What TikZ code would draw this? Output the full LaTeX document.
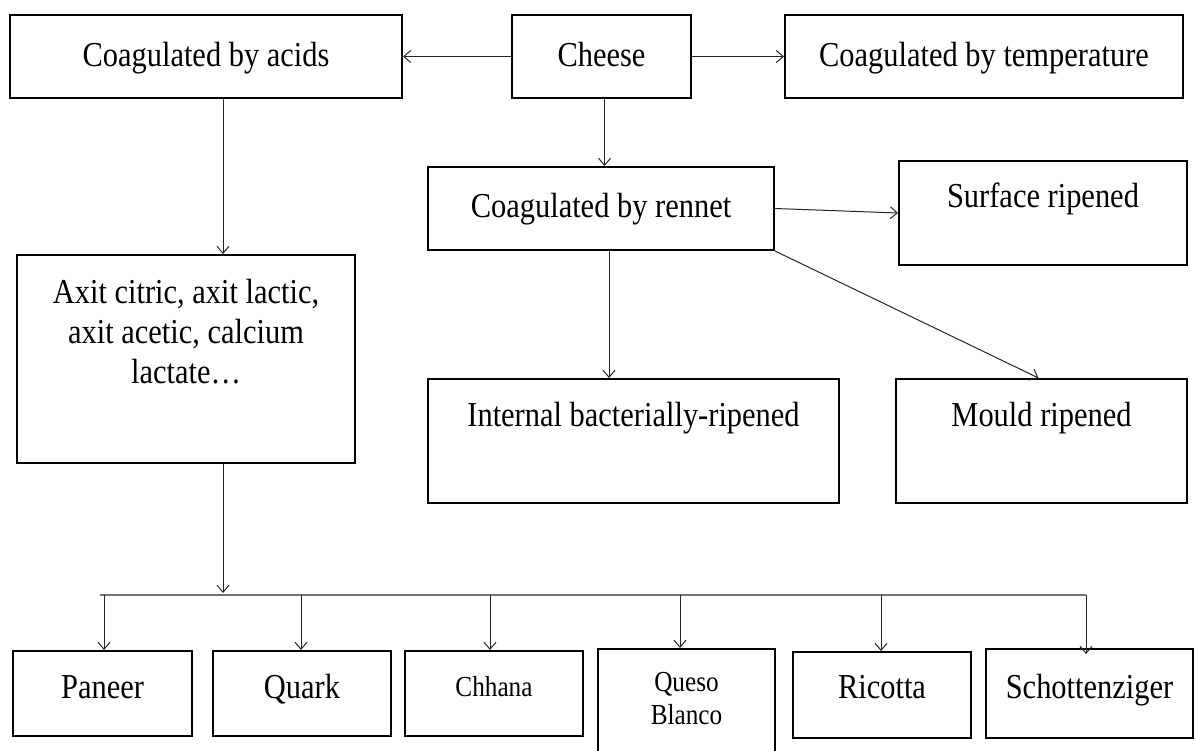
\documentclass[tikz,border=0pt]{standalone}
\usepackage{fontspec}
\setmainfont{Liberation Serif}[FakeStretch=0.87]
\usetikzlibrary{arrows.meta}
\tikzset{
  box/.style={draw=black, line width=2pt, inner sep=0pt, rectangle},
  txt/.style={anchor=base, inner sep=0pt, font=\fontsize{35}{40}\selectfont, align=center},
  smalltxt/.style={anchor=base, inner sep=0pt, font=\fontsize{29}{33}\selectfont, align=center},
  arr/.style={draw=black!85, line width=1pt, -{Straight Barb[length=7pt,width=12pt]}},
  ln/.style={draw=black!55, line width=1.6pt},
}
\begin{document}
\begin{tikzpicture}[x=1pt,y=-1pt]
\useasboundingbox (0,0) rectangle (1195,751);
% boxes
\node[box, minimum width=392pt, minimum height=83pt] (acids) at (206,56.5) {};
\node[box, minimum width=179pt, minimum height=83pt] (cheese) at (601.5,56.5) {};
\node[box, minimum width=398pt, minimum height=83pt] (temp) at (984,56.5) {};
\node[box, minimum width=346pt, minimum height=83pt] (rennet) at (601,208.5) {};
\node[box, minimum width=288pt, minimum height=104pt] (surface) at (1043,213) {};
\node[box, minimum width=411pt, minimum height=124pt] (internal) at (633.5,441) {};
\node[box, minimum width=291pt, minimum height=124pt] (mould) at (1041.5,441) {};
\node[box, minimum width=338pt, minimum height=208pt] (axit) at (186,359) {};
\node[box, minimum width=179pt, minimum height=85pt] (paneer) at (102.5,693.5) {};
\node[box, minimum width=178pt, minimum height=85pt] (quark) at (302,693.5) {};
\node[box, minimum width=178pt, minimum height=85pt] (chhana) at (494,693.5) {};
\node[box, minimum width=177pt, minimum height=111pt] (queso) at (686.5,704.5) {};
\node[box, minimum width=178pt, minimum height=86pt] (ricotta) at (882,695) {};
\node[box, minimum width=207pt, minimum height=89pt] (schotten) at (1089.5,693.5) {};
% texts
\node[txt] (acids-t) at (206,67) {Coagulated by acids};
\node[txt] (cheese-t) at (601.5,67) {Cheese};
\node[txt] (temp-t) at (984,67) {Coagulated by temperature};
\node[txt] (rennet-t) at (601,218) {Coagulated by rennet};
\node[txt] (surface-t) at (1043,208) {Surface ripened};
\node[txt] (internal-t) at (633.5,427) {Internal bacterially-ripened};
\node[txt] (mould-t) at (1041.5,427) {Mould ripened};
\node[txt] (axit-t) at (186,384) {Axit citric, axit lactic,\\axit acetic, calcium\\lactate\ldots};
\node[txt] (paneer-t) at (102.5,698) {Paneer};
\node[txt] (quark-t) at (302,698) {Quark};
\node[smalltxt] (chhana-t) at (494,696) {Chhana};
\node[smalltxt] (queso-t) at (686.5,724) {Queso\\Blanco};
\node[txt] (ricotta-t) at (882,698) {Ricotta};
\node[txt] (schotten-t) at (1089.5,698) {Schottenziger};
% connectors
\draw[arr] (cheese.west) -- (acids.east);
\draw[arr] (cheese.east) -- (temp.west);
\draw[arr] ([xshift=3pt]cheese.south) -- ([xshift=3pt]cheese.south |- rennet.north);
\draw[arr] (rennet.east) -- (surface.west);
\draw[arr] ([xshift=8pt]rennet.south) -- ([xshift=8pt]rennet.south |- internal.north);
\draw[arr] (rennet.south east) -- ([xshift=-3pt]mould.north);
\draw[arr] ([xshift=17pt]acids.south) -- ([xshift=17pt]acids.south |- axit.north);
\coordinate (busL) at (100,595);
\coordinate (busR) at (1086,595);
\draw[arr] ([xshift=37pt]axit.south) -- ([xshift=37pt,yshift=2pt]axit.south |- busL);
\draw[ln] (busL) -- (busR);
\draw[arr] ([xshift=1.5pt]paneer.north |- busL) -- ([xshift=1.5pt]paneer.north);
\draw[arr] ([xshift=-1pt]quark.north |- busL) -- ([xshift=-1pt]quark.north);
\draw[arr] ([xshift=-4pt]chhana.north |- busL) -- ([xshift=-4pt]chhana.north);
\draw[arr] ([xshift=-6.5pt]queso.north |- busL) -- ([xshift=-6.5pt]queso.north);
\draw[arr] ([xshift=-1pt]ricotta.north |- busL) -- ([xshift=-1pt]ricotta.north);
\draw[arr] (busR) -- ([yshift=-6pt]busR |- schotten.north);
\end{tikzpicture}
\end{document}
